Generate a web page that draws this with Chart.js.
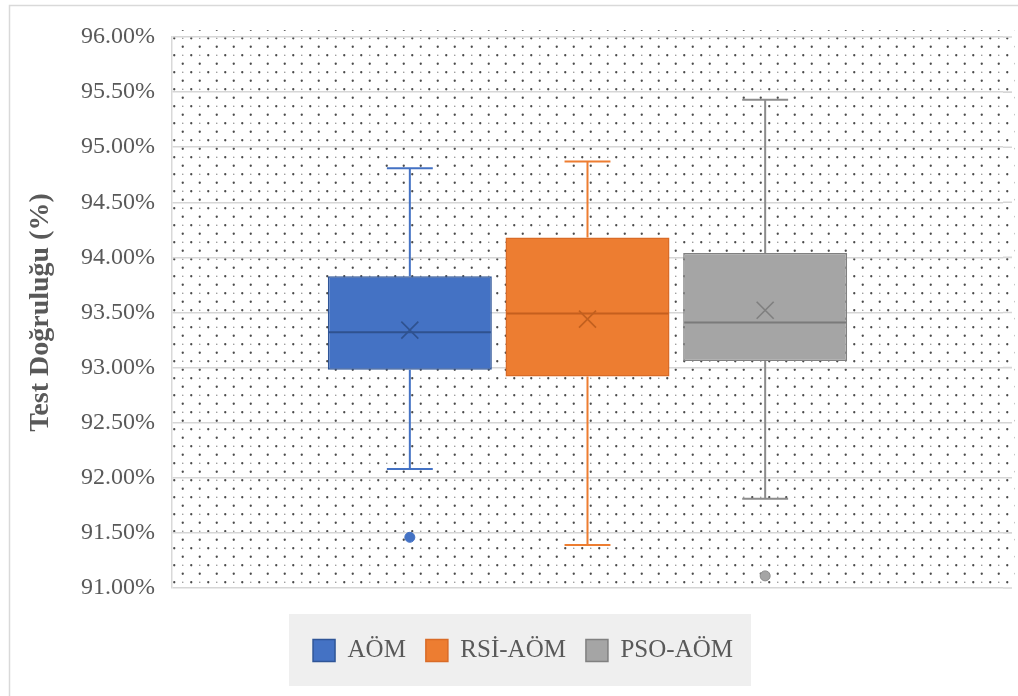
<!DOCTYPE html>
<html>
<head>
<meta charset="utf-8">
<script src="https://cdn.jsdelivr.net/npm/chart.js@4.4.1/dist/chart.umd.min.js"></script>
<style>
  html, body { margin: 0; padding: 0; background: #ffffff; }
  #wrap { width: 1018px; height: 696px; }
</style>
</head>
<body>
<div id="wrap"><canvas id="c" width="1018" height="696"></canvas></div>
<script>
// ---- Data ----
const categories = ['AÖM', 'RSİ-AÖM', 'PSO-AÖM'];
const minValues = [92.08, 91.39, 91.81];
const q1Values = [92.98, 92.92, 93.06];
const medianValues = [93.32, 93.49, 93.41];
const q3Values = [93.83, 94.18, 94.04];
const maxValues = [94.81, 94.87, 95.43];
const meanValues = [93.34, 93.44, 93.52];
const outlierValues = [[91.46], [], [91.11]];
const yTicks = [91, 91.5, 92, 92.5, 93, 93.5, 94, 94.5, 95, 95.5, 96];

// ---- Styles ----
const fillColors = ['#4472C4', '#ED7D31', '#A5A5A5'];
const borderColors = ['#2F5597', '#D96B27', '#808080'];
const whiskerColors = ['#4472C4', '#ED7D31', '#8C8C8C'];
const medianColors = ['#2F528F', '#C55F1E', '#7A7A7A'];
const meanColors = ['#2F528F', '#C2601F', '#7F7F7F'];
const textColor = '#595959';
const gridColor = '#d6d6d6';
const serif = "'Liberation Serif', 'Times New Roman', serif";
const plotExtend = 9;

Chart.defaults.font.family = serif;
Chart.defaults.color = textColor;

function makePattern(ctx) {
  const t = document.createElement('canvas');
  t.width = 17; t.height = 17;
  const c = t.getContext('2d');
  c.fillStyle = '#4a4a4a';
  c.beginPath(); c.arc(4.25, 4.25, 1.15, 0, Math.PI * 2); c.fill();
  c.beginPath(); c.arc(12.75, 12.75, 1.15, 0, Math.PI * 2); c.fill();
  c.fillStyle = '#8a8a8a';
  c.beginPath(); c.arc(12.75, 4.25, 0.75, 0, Math.PI * 2); c.fill();
  return ctx.createPattern(t, 'repeat');
}

const boxPlugin = {
  id: 'boxPlugin',
  beforeDraw(chart) {
    const { ctx, chartArea: a } = chart;
    ctx.save();
    // plot area dotted fill
    ctx.fillStyle = makePattern(ctx);
    ctx.fillRect(a.left, a.top - 7, a.right - a.left + plotExtend + 3, a.bottom - a.top + 8);
    // legend background
    const hb = chart.legend && chart.legend.legendHitBoxes;
    if (hb && hb.length) {
      let l = Infinity, r = -Infinity, t = Infinity, b = -Infinity;
      hb.forEach(h => { l = Math.min(l, h.left); r = Math.max(r, h.left + h.width); t = Math.min(t, h.top); b = Math.max(b, h.top + h.height); });
      ctx.fillStyle = '#efefef';
      ctx.fillRect(l - 24, t - 24, (r - l) + 42, (b - t) + 47);
    }
    // outer chart border
    ctx.strokeStyle = '#d9d9d9';
    ctx.lineWidth = 1.5;
    ctx.beginPath();
    ctx.moveTo(9.5, chart.height);
    ctx.lineTo(9.5, 5.5);
    ctx.lineTo(chart.width, 5.5);
    ctx.stroke();
    ctx.restore();
  },
  beforeDatasetsDraw(chart) {
    const { ctx, chartArea: a } = chart;
    const y = chart.scales.y;
    ctx.save();
    // extend the horizontal gridlines a little past the plot's right edge
    ctx.strokeStyle = gridColor;
    ctx.lineWidth = 1.6;
    ctx.beginPath();
    y.ticks.forEach(t => {
      const py = y.getPixelForValue(t.value);
      ctx.moveTo(a.right, py);
      ctx.lineTo(a.right + plotExtend, py);
    });
    ctx.stroke();
    // whiskers
    chart.data.datasets.forEach((ds, i) => {
      const bar = chart.getDatasetMeta(i).data[0];
      if (!bar) return;
      const x = bar.x;
      const cap = bar.width * 0.14;
      ctx.strokeStyle = whiskerColors[i];
      ctx.lineWidth = 2;
      ctx.beginPath();
      ctx.moveTo(x, y.getPixelForValue(q3Values[i]));
      ctx.lineTo(x, y.getPixelForValue(maxValues[i]));
      ctx.moveTo(x, y.getPixelForValue(q1Values[i]));
      ctx.lineTo(x, y.getPixelForValue(minValues[i]));
      ctx.moveTo(x - cap, y.getPixelForValue(maxValues[i]));
      ctx.lineTo(x + cap, y.getPixelForValue(maxValues[i]));
      ctx.moveTo(x - cap, y.getPixelForValue(minValues[i]));
      ctx.lineTo(x + cap, y.getPixelForValue(minValues[i]));
      ctx.stroke();
    });
    ctx.restore();
  },
  afterDatasetsDraw(chart) {
    const { ctx } = chart;
    const y = chart.scales.y;
    ctx.save();
    chart.data.datasets.forEach((ds, i) => {
      const bar = chart.getDatasetMeta(i).data[0];
      if (!bar) return;
      const x = bar.x;
      const half = bar.width / 2 - 1;
      // median
      ctx.strokeStyle = medianColors[i];
      ctx.lineWidth = 2;
      const my = y.getPixelForValue(medianValues[i]);
      ctx.beginPath();
      ctx.moveTo(x - half, my);
      ctx.lineTo(x + half, my);
      ctx.stroke();
      // mean X
      const mv = y.getPixelForValue(meanValues[i]);
      const s = 8.5;
      ctx.strokeStyle = meanColors[i];
      ctx.lineWidth = 1.6;
      ctx.beginPath();
      ctx.moveTo(x - s, mv - s); ctx.lineTo(x + s, mv + s);
      ctx.moveTo(x - s, mv + s); ctx.lineTo(x + s, mv - s);
      ctx.stroke();
      // outliers
      outlierValues[i].forEach(v => {
        ctx.fillStyle = fillColors[i];
        ctx.strokeStyle = whiskerColors[i];
        ctx.lineWidth = 1;
        ctx.beginPath();
        ctx.arc(x, y.getPixelForValue(v), 5, 0, Math.PI * 2);
        ctx.fill();
        ctx.stroke();
      });
    });
    ctx.restore();
  }
};

const datasets = categories.map((name, i) => ({
  label: name,
  data: [[q1Values[i], q3Values[i]]],
  backgroundColor: fillColors[i],
  borderColor: borderColors[i],
  borderWidth: 1.5,
  borderSkipped: false
}));

new Chart(document.getElementById('c'), {
  type: 'bar',
  data: { labels: [''], datasets },
  plugins: [boxPlugin],
  options: {
    responsive: false,
    animation: false,
    devicePixelRatio: 1,
    categoryPercentage: 0.6414,
    barPercentage: 0.923,
    layout: { padding: { left: 43, right: 15, top: 37, bottom: 23 } },
    plugins: {
      tooltip: { enabled: false },
      legend: {
        position: 'bottom',
        labels: {
          boxWidth: 22,
          boxHeight: 22,
          padding: 20,
          color: textColor,
          font: { family: serif, size: 25 }
        }
      }
    },
    scales: {
      x: {
        grid: { display: false },
        border: { display: false },
        ticks: { display: false },
        afterFit(scale) { scale.height = 30; }
      },
      y: {
        min: yTicks[0],
        max: yTicks[yTicks.length - 1],
        afterBuildTicks(scale) { scale.ticks = yTicks.map(v => ({ value: v })); },
        afterFit(scale) { scale.width = 129; },
        grid: { color: gridColor, lineWidth: 1.6, drawTicks: false },
        border: { display: true, color: '#d9d9d9', width: 1.5 },
        ticks: {
          padding: 17,
          color: textColor,
          font: { family: serif, size: 24 },
          callback: v => Number(v).toFixed(2) + '%'
        },
        title: {
          display: true,
          text: 'Test Doğruluğu (%)',
          color: textColor,
          font: { family: serif, size: 28, weight: 'bold' },
          padding: { top: -18.8, bottom: 0 }
        }
      }
    }
  }
});
</script>
</body>
</html>
